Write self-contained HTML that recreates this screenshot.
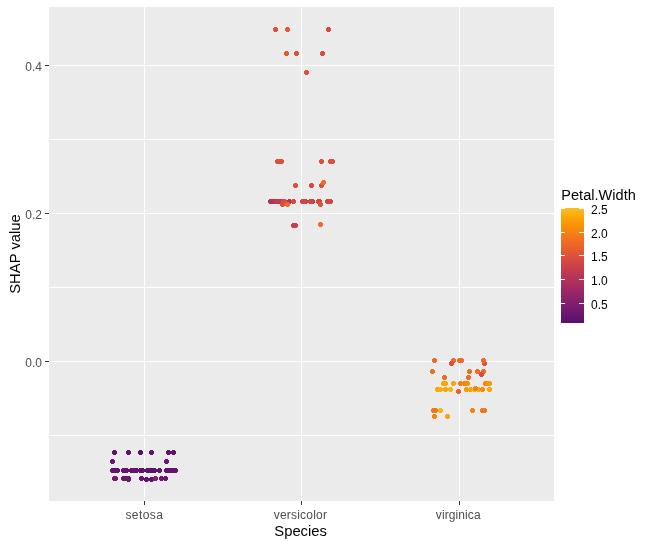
<!DOCTYPE html>
<html lang="en">
<head>
<meta charset="utf-8">
<title>SHAP dependence plot</title>
<style>
html,body{margin:0;padding:0;background:#fff;}
body{width:651px;height:546px;overflow:hidden;}
svg{display:block;}
text{font-family:"Liberation Sans",Arial,Helvetica,sans-serif;}
.ax{font-size:12px;fill:#4d4d4d;}
.lg{font-size:12px;fill:#000;}
.ti{font-size:15.5px;fill:#000;}
</style>
</head>
<body>
<svg width="651" height="546" viewBox="0 0 651 546">
<rect x="0" y="0" width="651" height="546" fill="#ffffff"/>
<rect x="49" y="7" width="505" height="494" fill="#ebebeb"/>
<g shape-rendering="crispEdges">
<rect x="49" y="139" width="505" height="1" fill="#fff"/>
<rect x="49" y="287" width="505" height="1" fill="#fff"/>
<rect x="49" y="435" width="505" height="1" fill="#fff"/>
<rect x="49" y="65" width="505" height="1" fill="#fff"/>
<rect x="49" y="213" width="505" height="1" fill="#fff"/>
<rect x="49" y="361" width="505" height="1" fill="#fff"/>
<rect x="144" y="7" width="1" height="494" fill="#fff"/>
<rect x="301" y="7" width="1" height="494" fill="#fff"/>
<rect x="459" y="7" width="1" height="494" fill="#fff"/>
<rect x="45" y="65" width="4" height="1" fill="#333"/>
<rect x="45" y="213" width="4" height="1" fill="#333"/>
<rect x="45" y="361" width="4" height="1" fill="#333"/>
<rect x="144" y="501" width="1" height="4" fill="#333"/>
<rect x="301" y="501" width="1" height="4" fill="#333"/>
<rect x="459" y="501" width="1" height="4" fill="#333"/>
</g>
<g shape-rendering="crispEdges">
<circle cx="114.5" cy="452.5" r="2.55" fill="#61136e"/>
<circle cx="128.5" cy="452.5" r="2.55" fill="#61136e"/>
<circle cx="151.5" cy="452.5" r="2.55" fill="#61136e"/>
<circle cx="168.5" cy="452.5" r="2.55" fill="#61136e"/>
<circle cx="173.5" cy="452.5" r="2.55" fill="#61136e"/>
<circle cx="140.5" cy="452.5" r="2.55" fill="#57106e"/>
<circle cx="112.5" cy="461.5" r="2.55" fill="#6a176e"/>
<circle cx="166.5" cy="461.5" r="2.55" fill="#6a176e"/>
<circle cx="112.5" cy="470.5" r="2.55" fill="#61136e"/>
<circle cx="114.5" cy="470.5" r="2.55" fill="#61136e"/>
<circle cx="117.5" cy="470.5" r="2.55" fill="#61136e"/>
<circle cx="123.5" cy="470.5" r="2.55" fill="#61136e"/>
<circle cx="126.5" cy="470.5" r="2.55" fill="#61136e"/>
<circle cx="131.5" cy="470.5" r="2.55" fill="#61136e"/>
<circle cx="134.5" cy="470.5" r="2.55" fill="#61136e"/>
<circle cx="136.5" cy="470.5" r="2.55" fill="#61136e"/>
<circle cx="140.5" cy="470.5" r="2.55" fill="#61136e"/>
<circle cx="142.5" cy="470.5" r="2.55" fill="#61136e"/>
<circle cx="147.5" cy="470.5" r="2.55" fill="#5c126e"/>
<circle cx="149.5" cy="470.5" r="2.55" fill="#5c126e"/>
<circle cx="151.5" cy="470.5" r="2.55" fill="#5c126e"/>
<circle cx="154.5" cy="470.5" r="2.55" fill="#5c126e"/>
<circle cx="159.5" cy="470.5" r="2.55" fill="#61136e"/>
<circle cx="166.5" cy="470.5" r="2.55" fill="#61136e"/>
<circle cx="169.5" cy="470.5" r="2.55" fill="#61136e"/>
<circle cx="171.5" cy="470.5" r="2.55" fill="#61136e"/>
<circle cx="173.5" cy="470.5" r="2.55" fill="#61136e"/>
<circle cx="175.5" cy="470.5" r="2.55" fill="#61136e"/>
<circle cx="114.5" cy="478.5" r="2.55" fill="#751b6e"/>
<circle cx="115.5" cy="478.5" r="2.55" fill="#751b6e"/>
<circle cx="123.5" cy="478.5" r="2.55" fill="#6a176e"/>
<circle cx="126.5" cy="478.5" r="2.55" fill="#6a176e"/>
<circle cx="128.5" cy="478.5" r="2.55" fill="#6a176e"/>
<circle cx="128.5" cy="479.5" r="2.55" fill="#6a176e"/>
<circle cx="141.5" cy="478.5" r="2.55" fill="#6a176e"/>
<circle cx="146.5" cy="479.5" r="2.55" fill="#61136e"/>
<circle cx="151.5" cy="479.5" r="2.55" fill="#61136e"/>
<circle cx="161.5" cy="478.5" r="2.55" fill="#6a176e"/>
<circle cx="165.5" cy="478.5" r="2.55" fill="#6a176e"/>
<circle cx="155.5" cy="478.5" r="2.55" fill="#8a226a"/>
<circle cx="275.5" cy="29.5" r="2.55" fill="#dd513a"/>
<circle cx="287.5" cy="29.5" r="2.55" fill="#e45a31"/>
<circle cx="328.5" cy="29.5" r="2.55" fill="#d54a41"/>
<circle cx="286.5" cy="53.5" r="2.55" fill="#e45a31"/>
<circle cx="296.5" cy="53.5" r="2.55" fill="#dd513a"/>
<circle cx="322.5" cy="53.5" r="2.55" fill="#d54a41"/>
<circle cx="306.5" cy="72.5" r="2.55" fill="#dd513a"/>
<circle cx="277.5" cy="161.5" r="2.55" fill="#dd513a"/>
<circle cx="279.5" cy="161.5" r="2.55" fill="#dd513a"/>
<circle cx="281.5" cy="161.5" r="2.55" fill="#dd513a"/>
<circle cx="321.5" cy="161.5" r="2.55" fill="#dd513a"/>
<circle cx="330.5" cy="161.5" r="2.55" fill="#dd513a"/>
<circle cx="332.5" cy="161.5" r="2.55" fill="#dd513a"/>
<circle cx="295.5" cy="185.5" r="2.55" fill="#dd513a"/>
<circle cx="321.5" cy="185.5" r="2.55" fill="#dd513a"/>
<circle cx="311.5" cy="185.5" r="2.55" fill="#d54a41"/>
<circle cx="323.5" cy="182.5" r="2.55" fill="#ef6c23"/>
<circle cx="270.5" cy="201.5" r="2.55" fill="#b1325a"/>
<circle cx="271.5" cy="201.5" r="2.55" fill="#b1325a"/>
<circle cx="272.5" cy="201.5" r="2.55" fill="#b1325a"/>
<circle cx="273.5" cy="201.5" r="2.55" fill="#b1325a"/>
<circle cx="275.5" cy="201.5" r="2.55" fill="#bc3754"/>
<circle cx="277.5" cy="201.5" r="2.55" fill="#c03a51"/>
<circle cx="279.5" cy="201.5" r="2.55" fill="#c03a51"/>
<circle cx="280.5" cy="201.5" r="2.55" fill="#c03a51"/>
<circle cx="283.5" cy="201.5" r="2.55" fill="#d54a41"/>
<circle cx="284.5" cy="201.5" r="2.55" fill="#d54a41"/>
<circle cx="289.5" cy="201.5" r="2.55" fill="#b1325a"/>
<circle cx="293.5" cy="201.5" r="2.55" fill="#d54a41"/>
<circle cx="305.5" cy="201.5" r="2.55" fill="#bc3754"/>
<circle cx="312.5" cy="201.5" r="2.55" fill="#bc3754"/>
<circle cx="302.5" cy="201.5" r="2.55" fill="#d24644"/>
<circle cx="304.5" cy="201.5" r="2.55" fill="#d24644"/>
<circle cx="310.5" cy="201.5" r="2.55" fill="#d24644"/>
<circle cx="311.5" cy="201.5" r="2.55" fill="#d24644"/>
<circle cx="318.5" cy="201.5" r="2.55" fill="#d24644"/>
<circle cx="319.5" cy="201.5" r="2.55" fill="#d24644"/>
<circle cx="327.5" cy="201.5" r="2.55" fill="#d24644"/>
<circle cx="329.5" cy="201.5" r="2.55" fill="#d24644"/>
<circle cx="330.5" cy="201.5" r="2.55" fill="#d24644"/>
<circle cx="282.5" cy="204.5" r="2.55" fill="#dd513a"/>
<circle cx="287.5" cy="204.5" r="2.55" fill="#ef6c23"/>
<circle cx="320.5" cy="204.5" r="2.55" fill="#dd513a"/>
<circle cx="293.5" cy="225.5" r="2.55" fill="#c83f4b"/>
<circle cx="295.5" cy="225.5" r="2.55" fill="#c83f4b"/>
<circle cx="320.5" cy="224.5" r="2.55" fill="#ef6c23"/>
<circle cx="434.5" cy="360.5" r="2.55" fill="#ef6c23"/>
<circle cx="453.5" cy="360.5" r="2.55" fill="#ef6c23"/>
<circle cx="459.5" cy="360.5" r="2.55" fill="#ef6c23"/>
<circle cx="461.5" cy="360.5" r="2.55" fill="#ef6c23"/>
<circle cx="451.5" cy="363.5" r="2.55" fill="#dd513a"/>
<circle cx="484.5" cy="363.5" r="2.55" fill="#dd513a"/>
<circle cx="483.5" cy="360.5" r="2.55" fill="#ef6c23"/>
<circle cx="432.5" cy="371.5" r="2.55" fill="#ef6c23"/>
<circle cx="469.5" cy="371.5" r="2.55" fill="#ef6c23"/>
<circle cx="477.5" cy="371.5" r="2.55" fill="#ef6c23"/>
<circle cx="483.5" cy="371.5" r="2.55" fill="#ef6c23"/>
<circle cx="481.5" cy="374.5" r="2.55" fill="#d54a41"/>
<circle cx="444.5" cy="377.5" r="2.55" fill="#ef6c23"/>
<circle cx="468.5" cy="377.5" r="2.55" fill="#ef6c23"/>
<circle cx="443.5" cy="383.5" r="2.55" fill="#fca50a"/>
<circle cx="445.5" cy="383.5" r="2.55" fill="#fca50a"/>
<circle cx="453.5" cy="383.5" r="2.55" fill="#fca50a"/>
<circle cx="460.5" cy="383.5" r="2.55" fill="#f57d15"/>
<circle cx="464.5" cy="383.5" r="2.55" fill="#f78212"/>
<circle cx="467.5" cy="383.5" r="2.55" fill="#f98e09"/>
<circle cx="485.5" cy="383.5" r="2.55" fill="#f78212"/>
<circle cx="487.5" cy="383.5" r="2.55" fill="#f98e09"/>
<circle cx="489.5" cy="383.5" r="2.55" fill="#fb9906"/>
<circle cx="437.5" cy="389.5" r="2.55" fill="#fca50a"/>
<circle cx="440.5" cy="389.5" r="2.55" fill="#fcb216"/>
<circle cx="445.5" cy="389.5" r="2.55" fill="#fca50a"/>
<circle cx="450.5" cy="389.5" r="2.55" fill="#fcb216"/>
<circle cx="466.5" cy="389.5" r="2.55" fill="#fb9906"/>
<circle cx="470.5" cy="389.5" r="2.55" fill="#fca50a"/>
<circle cx="474.5" cy="389.5" r="2.55" fill="#fcb216"/>
<circle cx="478.5" cy="389.5" r="2.55" fill="#fca50a"/>
<circle cx="482.5" cy="389.5" r="2.55" fill="#f98e09"/>
<circle cx="489.5" cy="389.5" r="2.55" fill="#fca50a"/>
<circle cx="475.5" cy="388.5" r="2.55" fill="#f78212"/>
<circle cx="458.5" cy="391.5" r="2.55" fill="#ea632a"/>
<circle cx="433.5" cy="410.5" r="2.55" fill="#f37819"/>
<circle cx="435.5" cy="410.5" r="2.55" fill="#f37819"/>
<circle cx="440.5" cy="410.5" r="2.55" fill="#fcb216"/>
<circle cx="472.5" cy="410.5" r="2.55" fill="#f78212"/>
<circle cx="482.5" cy="410.5" r="2.55" fill="#f37819"/>
<circle cx="484.5" cy="410.5" r="2.55" fill="#f37819"/>
<circle cx="434.5" cy="416.5" r="2.55" fill="#f78212"/>
<circle cx="447.5" cy="416.5" r="2.55" fill="#fca50a"/>
</g>
<text x="41.9" y="70.7" text-anchor="end" class="ax" textLength="16.6" lengthAdjust="spacing">0.4</text>
<text x="41.9" y="218.7" text-anchor="end" class="ax" textLength="16.6" lengthAdjust="spacing">0.2</text>
<text x="41.9" y="366.7" text-anchor="end" class="ax" textLength="16.6" lengthAdjust="spacing">0.0</text>
<text x="144.2" y="519" text-anchor="middle" class="ax" textLength="37.6" lengthAdjust="spacing">setosa</text>
<text x="300.35" y="519" text-anchor="middle" class="ax" textLength="53.3" lengthAdjust="spacing">versicolor</text>
<text x="458.2" y="519" text-anchor="middle" class="ax" textLength="44.8" lengthAdjust="spacing">virginica</text>

<text x="300.6" y="536" text-anchor="middle" class="ti" textLength="52.6" lengthAdjust="spacingAndGlyphs">Species</text>
<text transform="translate(20,254) rotate(-90)" text-anchor="middle" class="ti" textLength="79.6" lengthAdjust="spacingAndGlyphs">SHAP value</text>
<g>
<defs><linearGradient id="g" x1="0" y1="0" x2="0" y2="1"><stop offset="0.00%" stop-color="#fbbe23"/><stop offset="4.17%" stop-color="#fcb216"/><stop offset="8.33%" stop-color="#fca50a"/><stop offset="12.50%" stop-color="#fb9906"/><stop offset="16.67%" stop-color="#f98e09"/><stop offset="20.83%" stop-color="#f78212"/><stop offset="25.00%" stop-color="#f37819"/><stop offset="29.17%" stop-color="#ef6c23"/><stop offset="33.33%" stop-color="#ea632a"/><stop offset="37.50%" stop-color="#e45a31"/><stop offset="41.67%" stop-color="#dd513a"/><stop offset="45.83%" stop-color="#d54a41"/><stop offset="50.00%" stop-color="#cc4248"/><stop offset="54.17%" stop-color="#c43c4e"/><stop offset="58.33%" stop-color="#ba3655"/><stop offset="62.50%" stop-color="#b1325a"/><stop offset="66.67%" stop-color="#a82e5f"/><stop offset="70.83%" stop-color="#9d2964"/><stop offset="75.00%" stop-color="#932667"/><stop offset="79.17%" stop-color="#8a226a"/><stop offset="83.33%" stop-color="#7f1e6c"/><stop offset="87.50%" stop-color="#751b6e"/><stop offset="91.67%" stop-color="#6a176e"/><stop offset="95.83%" stop-color="#61136e"/><stop offset="100.00%" stop-color="#57106e"/></linearGradient></defs>
<rect x="561" y="208" width="23" height="115" fill="url(#g)"/>
<rect x="561" y="208" width="4" height="1" fill="#fff"/><rect x="579" y="208" width="5" height="1" fill="#fff"/>
<text x="591.1" y="213.8" class="lg" textLength="16.5" lengthAdjust="spacing">2.5</text>
<rect x="561" y="232" width="4" height="1" fill="#fff"/><rect x="579" y="232" width="5" height="1" fill="#fff"/>
<text x="591.1" y="237.8" class="lg" textLength="16.5" lengthAdjust="spacing">2.0</text>
<rect x="561" y="255" width="4" height="1" fill="#fff"/><rect x="579" y="255" width="5" height="1" fill="#fff"/>
<text x="591.1" y="260.8" class="lg" textLength="16.5" lengthAdjust="spacing">1.5</text>
<rect x="561" y="279" width="4" height="1" fill="#fff"/><rect x="579" y="279" width="5" height="1" fill="#fff"/>
<text x="591.1" y="284.8" class="lg" textLength="16.5" lengthAdjust="spacing">1.0</text>
<rect x="561" y="303" width="4" height="1" fill="#fff"/><rect x="579" y="303" width="5" height="1" fill="#fff"/>
<text x="591.1" y="308.8" class="lg" textLength="16.5" lengthAdjust="spacing">0.5</text>
<text x="561.3" y="200" class="ti" textLength="74.5" lengthAdjust="spacingAndGlyphs">Petal.Width</text>
</g>
</svg>
</body>
</html>
